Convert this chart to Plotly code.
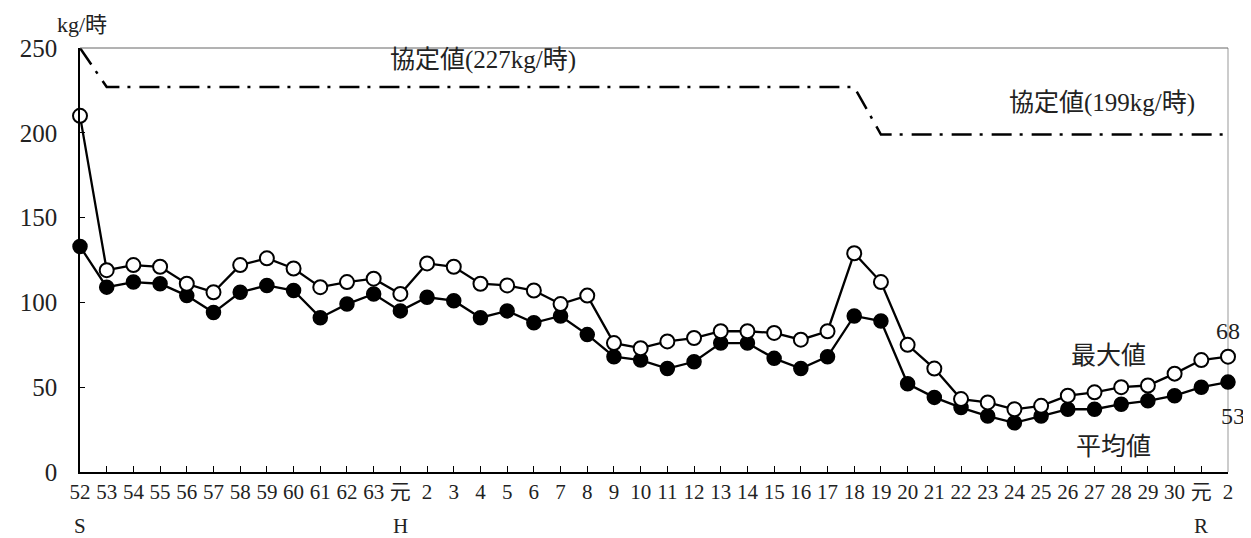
import plotly.graph_objects as go

years = ['52', '53', '54', '55', '56', '57', '58', '59', '60', '61', '62', '63',
         '元', '2', '3', '4', '5', '6', '7', '8', '9', '10', '11', '12', '13', '14', '15', '16',
         '17', '18', '19', '20', '21', '22', '23', '24', '25', '26', '27', '28', '29', '30',
         '元', '2']
era_marks = {0: 'S', 12: 'H', 42: 'R'}

max_vals = [210, 119, 122, 121, 111, 106, 122, 126, 120, 109, 112, 114,
            105, 123, 121, 111, 110, 107, 99, 104, 76, 73, 77, 79, 83, 83, 82, 78,
            83, 129, 112, 75, 61, 43, 41, 37, 39, 45, 47, 50, 51, 58,
            66, 68]
mean_vals = [133, 109, 112, 111, 104, 94, 106, 110, 107, 91, 99, 105,
             95, 103, 101, 91, 95, 88, 92, 81, 68, 66, 61, 65, 76, 76, 67, 61,
             68, 92, 89, 52, 44, 38, 33, 29, 33, 37, 37, 40, 42, 45,
             50, 53]

# agreement limit: 250 -> 227 (S53..H18) -> 199 (H19..R2)
agree_idx = [0, 1, 29, 30, 43]
agree_vals = [250, 227, 227, 199, 199]

FONT = 'Liberation Serif, DejaVu Serif, Noto Sans CJK JP'
TXT = '#222'

x = list(range(len(years)))

fig = go.Figure()
fig.add_trace(go.Scatter(x=agree_idx, y=agree_vals, mode='lines',
                         line=dict(color='black', width=2.5, dash='20px,8px,3px,9px'),
                         showlegend=False, cliponaxis=False))
fig.add_trace(go.Scatter(x=x, y=mean_vals, mode='lines+markers',
                         line=dict(color='black', width=2.3),
                         marker=dict(size=14, color='black', line=dict(color='black', width=1.5)),
                         showlegend=False, cliponaxis=False))
fig.add_trace(go.Scatter(x=x, y=max_vals, mode='lines+markers',
                         line=dict(color='black', width=2.3),
                         marker=dict(size=14, color='white', line=dict(color='black', width=2)),
                         showlegend=False, cliponaxis=False))

# top and right frame (grey)
fig.add_shape(type='line', xref='paper', yref='paper', x0=0, x1=1, y0=1, y1=1,
              line=dict(color='#666', width=1))
fig.add_shape(type='line', xref='paper', yref='paper', x0=1, x1=1, y0=0, y1=1,
              line=dict(color='#999', width=1), layer='below')

# plot area in page pixels: x 76..1228, y 48..472
def px(xp):
    return (xp - 76) / (1228 - 76)


def py(yp):
    return (472 - yp) / (472 - 48)


annots = [
    (480, 60, '協定値(227kg/時)', 25),
    (1102, 103, '協定値(199kg/時)', 25),
    (1108, 355, '最大値', 25),
    (1113, 446, '平均値', 25),
    (1228, 331, '68', 24),
    (1233, 416, '53', 24),
    (78, 24, 'kg/時', 22),
]
for ax, ay, text, size in annots:
    fig.add_annotation(x=px(ax), y=py(ay), xref='paper', yref='paper',
                       text=text, showarrow=False, xanchor='center', yanchor='middle',
                       font=dict(family=FONT, size=size, color=TXT))

for i, mark in era_marks.items():
    fig.add_annotation(x=i, y=py(526), xref='x', yref='paper', text=mark, showarrow=False,
                       xanchor='center', yanchor='middle', font=dict(family=FONT, size=21, color=TXT))

fig.update_layout(
    width=1243, height=530,
    margin=dict(l=68, r=23, t=40, b=66),
    paper_bgcolor='white', plot_bgcolor='white',
    font=dict(family=FONT, color=TXT),
    xaxis=dict(range=[0, 43], tickmode='array', tickvals=x, ticktext=years,
               showgrid=False, zeroline=False, showline=True, linecolor='black', linewidth=1.5,
               ticks='inside', ticklen=6, tickcolor='black', tickfont=dict(size=21, family=FONT),
               tickangle=0),
    yaxis=dict(range=[0, 250], tickvals=[0, 50, 100, 150, 200, 250],
               showgrid=False, zeroline=False, showline=True, linecolor='black', linewidth=1.5,
               ticks='inside', ticklen=5, tickcolor='black', tickfont=dict(size=25, family=FONT),
               ticklabelstandoff=16),
)

fig.write_html('out.html')
